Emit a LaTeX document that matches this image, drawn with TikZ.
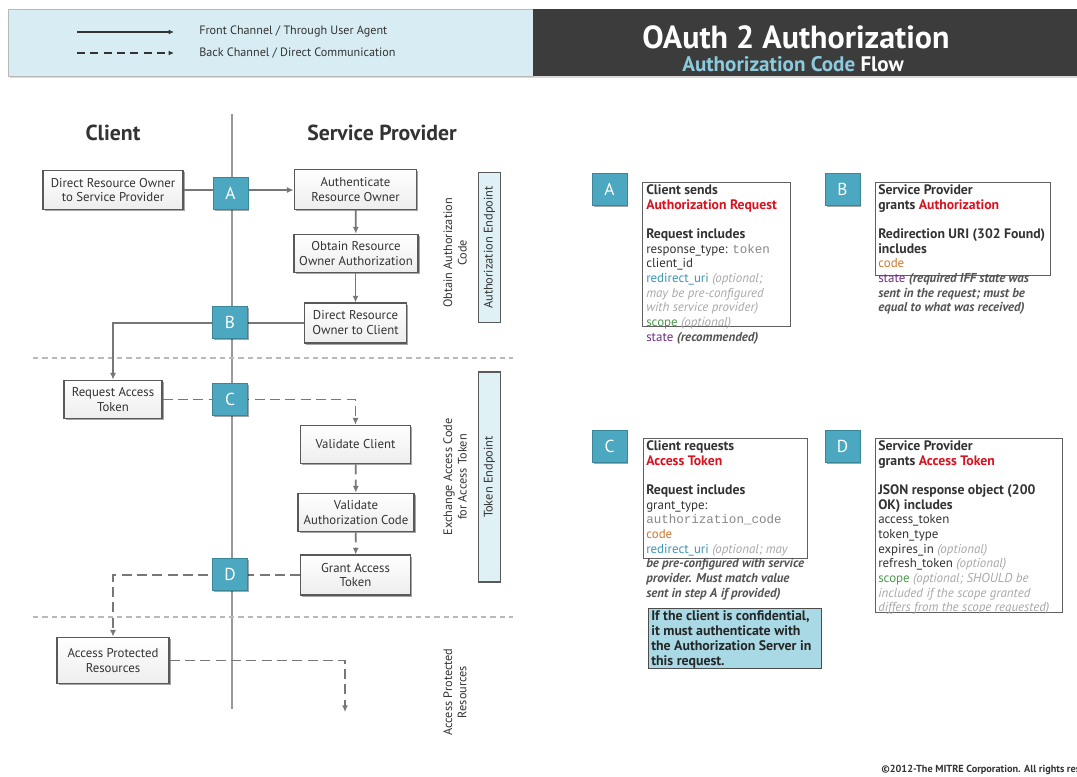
\documentclass[tikz,border=0pt]{standalone}
\usepackage{fontspec}
\setmainfont{PT Sans}
\newfontfamily\monofont{Liberation Mono}
\usetikzlibrary{arrows.meta,shadows,calc}
\definecolor{badgeblue}{HTML}{4BA8C0}
\definecolor{headerblue}{HTML}{D7ECF3}
\definecolor{endpointblue}{HTML}{E0F1F6}
\definecolor{confblue}{HTML}{A9D9E5}
\definecolor{titleblue}{HTML}{8CCBDD}
\definecolor{titledark}{HTML}{3C3C3C}
\definecolor{oauthred}{HTML}{D9121F}
\definecolor{urlteal}{HTML}{3B97B3}
\definecolor{scopegreen}{HTML}{4C9A4C}
\definecolor{statepurple}{HTML}{6E2F80}
\definecolor{codeorange}{HTML}{CF7A2F}
\definecolor{linegray}{HTML}{777777}
\definecolor{textdark}{HTML}{333333}
\definecolor{monogray}{HTML}{888888}
\definecolor{optgray}{HTML}{A8A8A8}
\definecolor{optdark}{HTML}{555555}
\newcommand\myopt[1]{{\itshape\color{optgray}#1}}
\newcommand\myoptdark[1]{{\itshape\bfseries\color{optdark}#1}}
\newcommand\mymono[1]{{\monofont\fontsize{9.4pt}{11pt}\selectfont\color{monogray}#1}}
\newcommand\hb[1]{{\fontsize{10.3pt}{11pt}\selectfont\bfseries #1}}
\begin{document}
\begin{tikzpicture}[x=0.75pt,y=-0.75pt,
  tip/.style={-{Latex[length=5pt,width=4.5pt]}},
  conn/.style={draw=linegray,line width=1.3pt,tip},
  back/.style={conn,dash pattern=on 7.5pt off 4pt},
  sep/.style={draw=gray!55,line width=1.6pt,dash pattern=on 4pt off 3pt},
  flowbox/.style={draw=gray!70!black,line width=0.8pt,top color=white,bottom color=gray!14,
    drop shadow={shadow xshift=1.2pt,shadow yshift=-1.2pt,opacity=0.35,fill=black},
    align=center,font=\fontsize{9.6pt}{11.2pt}\selectfont,text=textdark,inner sep=1pt},
  badge/.style={fill=badgeblue,draw=badgeblue!80!black,line width=0.5pt,text=white,
    font=\fontsize{13pt}{14pt}\selectfont,minimum width=26pt,minimum height=24pt,inner sep=0pt,
    drop shadow={shadow xshift=1.2pt,shadow yshift=-1.2pt,opacity=0.35,fill=black}},
  endpoint/.style={draw=gray!70!black,line width=0.8pt,fill=endpointblue,rotate=90,
    minimum height=17pt,inner sep=0pt,font=\fontsize{9.3pt}{10pt}\selectfont,text=textdark},
  phase/.style={rotate=90,align=center,font=\fontsize{9.2pt}{10.8pt}\selectfont,text=textdark,inner sep=0pt},
  frame/.style={draw=gray!75!black,line width=0.7pt,fill=white},
  info/.style={anchor=north west,align=left,inner sep=0pt,
    font=\fontsize{9.7pt}{11pt}\selectfont,text=textdark},
  heading/.style={font=\fontsize{16.3pt}{18pt}\selectfont\bfseries,text=textdark}
]
\useasboundingbox (0,0) rectangle (1077,776);
\fill[white] (0,0) rectangle (1077,776);

% ---------- header ----------
\fill[gray!30] (10,11) rectangle (1077,78);
\filldraw[fill=headerblue,draw=gray!55,line width=0.6pt] (8,9) rectangle (533,76);
\fill[titledark] (533,9) rectangle (1077,76);
\coordinate (l1a) at (77,32); \coordinate (l1b) at (174,32);
\coordinate (l2a) at (77,53); \coordinate (l2b) at (174,53);
\draw[draw=gray!40!black,line width=0.8pt,-{Latex[length=4pt,width=3.5pt]}] (l1a) -- (l1b);
\draw[draw=gray!40!black,line width=0.8pt,dash pattern=on 6pt off 4pt,-{Latex[length=4pt,width=3.5pt]}] (l2a) -- (l2b);
\node[anchor=west,inner sep=0pt,font=\fontsize{9.1pt}{10pt}\selectfont,text=textdark] (leg1) at (199,31) {Front Channel / Through User Agent};
\node[anchor=west,inner sep=0pt,font=\fontsize{9.1pt}{10pt}\selectfont,text=textdark] (leg2) at (199,53) {Back Channel / Direct Communication};
\node[font=\fontsize{24pt}{28pt}\selectfont\bfseries,text=white] (title) at (796,37) {OAuth 2 Authorization};
\node[font=\fontsize{15.8pt}{18pt}\selectfont\bfseries,text=white] (subtitle) at (793,64) {{\color{titleblue}Authorization Code} Flow};

% ---------- columns ----------
\node[heading] (client) at (113,133) {Client};
\node[heading] (sp) at (382,133) {Service Provider};
\coordinate (vtop) at (232,114); \coordinate (vbot) at (232,709);
\draw[draw=gray!80,line width=2.2pt] (vtop) -- (vbot);
\coordinate (s1a) at (33,358); \coordinate (s1b) at (513,358);
\coordinate (s2a) at (33,617); \coordinate (s2b) at (513,617);
\draw[sep] (s1a) -- (s1b);
\draw[sep] (s2a) -- (s2b);

% ---------- flow boxes ----------
\node[flowbox,minimum width=105pt,minimum height=29pt] (dro) at (113,190) {Direct Resource Owner\\to Service Provider};
\node[flowbox,minimum width=92pt,minimum height=30pt] (auth) at (355.5,189.5) {Authenticate\\Resource Owner};
\node[flowbox,minimum width=93pt,minimum height=29pt] (obt) at (356,253.5) {Obtain Resource\\Owner Authorization};
\node[flowbox,minimum width=77pt,minimum height=30pt] (drc) at (355.5,323) {Direct Resource\\Owner to Client};
\node[flowbox,minimum width=73.5pt,minimum height=29pt] (req) at (113,399.5) {Request Access\\Token};
\node[flowbox,minimum width=82pt,minimum height=29pt] (vc) at (355.5,444.5) {Validate Client};
\node[flowbox,minimum width=87pt,minimum height=29pt] (vac) at (356,512.5) {Validate\\Authorization Code};
\node[flowbox,minimum width=82pt,minimum height=30pt] (grant) at (355.5,575) {Grant Access\\Token};
\node[flowbox,minimum width=84pt,minimum height=35pt] (apr) at (113,660.5) {Access Protected\\Resources};
\coordinate (aprend) at (345,712);

% ---------- connectors ----------
\draw[conn] (dro.east) -- (dro.east -| auth.west);
\draw[conn] (auth) -- (obt);
\draw[conn] (obt.south -| drc.north) -- (drc.north);
\draw[conn] (drc.west) -- (drc.west -| req.north) -- (req.north);
\draw[back] (req.east) -- (req.east -| vc.north) -- (vc.north);
\draw[back] (vc) -- (vac);
\draw[back] (vac) -- (grant);
\draw[back] (grant.west) -- (grant.west -| apr.north) -- (apr.north);
\draw[back] (apr.east) -- (apr.east -| aprend) -- (aprend);

% ---------- badges on the line ----------
\node[badge] (ba) at (230.5,193) {A};
\node[badge] (bb) at (230,322) {B};
\node[badge] (bc) at (230,399) {C};
\node[badge] (bd) at (230,574) {D};

% ---------- phase labels ----------
\node[phase] (ph1) at (455,253) {Obtain Authorization\\Code};
\node[phase] (ph2) at (455,477) {Exchange Access Code\\for Access Token};
\node[phase] (ph3) at (455,692) {Access Protected\\Resources};
\node[endpoint,minimum width=112pt] (ep1) at (489.5,247.5) {Authorization Endpoint};
\node[endpoint,minimum width=157.5pt] (ep2) at (489.5,477) {Token Endpoint};

% ---------- right panel ----------
\node[badge] (ra) at (609.5,189.5) {A};
\node[badge] (rb) at (842.5,189.5) {B};
\node[badge] (rc) at (609.5,446) {C};
\node[badge] (rd) at (842.5,446) {D};

\draw[frame] (642,182) rectangle (790,326);
\draw[frame] (875,182) rectangle (1050,275);
\draw[frame] (643,438) rectangle (807,558);
\draw[frame] (875,438) rectangle (1062,612);

\node[info] (ta) at (646,184) {\strut\hb{Client sends}\\
\hb{\color{oauthred}Authorization Request}\\[\baselineskip]
\hb{Request includes}\\
response\_type: \mymono{token}\\
client\_id\\
{\color{urlteal}redirect\_uri} \myopt{(optional;}\\
\myopt{may be pre-configured}\\
\myopt{with service provider)}\\
{\color{scopegreen}scope} \myopt{(optional)}\\
{\color{statepurple}state} \myoptdark{(recommended)}};

\node[info] (tb) at (878,184) {\strut\hb{Service Provider}\\
\hb{grants {\color{oauthred}Authorization}}\\[\baselineskip]
\hb{Redirection URI (302 Found)}\\
\hb{includes}\\
{\color{codeorange}code}\\
{\color{statepurple}state} \myoptdark{(required IFF state was}\\
\myoptdark{sent in the request; must be}\\
\myoptdark{equal to what was received)}};

\node[info] (tc) at (646,440) {\strut\hb{Client requests}\\
\hb{\color{oauthred}Access Token}\\[\baselineskip]
\hb{Request includes}\\
grant\_type:\\
\mymono{authorization\_code}\\
{\color{codeorange}code}\\
{\color{urlteal}redirect\_uri} \myopt{(optional; may}\\
\myoptdark{be pre-configured with service}\\
\myoptdark{provider. Must match value}\\
\myoptdark{sent in step A if provided)}};

\node[info] (td) at (878,440) {\strut\hb{Service Provider}\\
\hb{grants {\color{oauthred}Access Token}}\\[\baselineskip]
\hb{JSON response object (200}\\
\hb{OK) includes}\\
access\_token\\
token\_type\\
expires\_in \myopt{(optional)}\\
refresh\_token \myopt{(optional)}\\
{\color{scopegreen}scope} \myopt{(optional; SHOULD be}\\
\myopt{included if the scope granted}\\
\myopt{differs from the scope requested)}};

\filldraw[fill=confblue,draw=gray!60!black,line width=0.7pt] (648,608) rectangle (821,668);
\node[info,font=\fontsize{10.4pt}{11.2pt}\selectfont\bfseries,text=black!85] (conf) at (651,610) {\strut If the client is confidential,\\
it must authenticate with\\
the Authorization Server in\\
this request.};

\begin{scope}
\clip (0,0) rectangle (1077,776);
\node[anchor=west,inner sep=0pt,font=\fontsize{7.7pt}{8pt}\selectfont\bfseries,text=textdark] (copy) at (881,770) {©2012-The MITRE Corporation. All rights reserved.};
\end{scope}
\end{tikzpicture}
\end{document}
